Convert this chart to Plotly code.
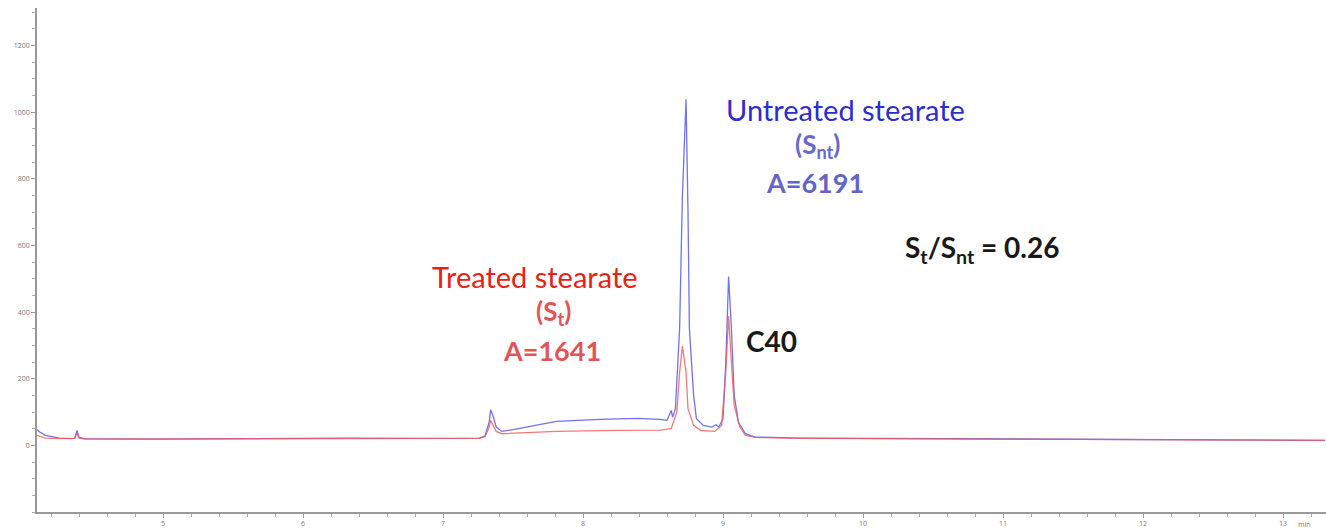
import plotly.graph_objects as go

# ---- data (time in min, signal in pA) ----
time_untreated = [4.10, 4.12, 4.16, 4.21, 4.26, 4.35, 4.37, 4.386, 4.40, 4.44, 4.91, 5.60, 6.30, 6.90,
                  7.26, 7.30, 7.33, 7.34, 7.36, 7.38, 7.42, 7.51, 7.62, 7.81, 8.12, 8.39, 8.55, 8.60,
                  8.63, 8.64, 8.66, 8.69, 8.71, 8.736, 8.75, 8.76, 8.79, 8.81, 8.86, 8.92, 8.95, 8.97,
                  9.00, 9.02, 9.04, 9.06, 9.08, 9.11, 9.16, 9.23, 9.55, 10.98, 12.76, 13.30]
signal_untreated = [48, 40, 30, 25, 22, 20, 22, 45, 24, 20, 19, 20, 22, 21,
                    22, 28, 70, 107, 85, 55, 42, 48, 57, 72, 78, 81, 78, 75,
                    105, 85, 110, 350, 750, 1039, 700, 350, 150, 80, 60, 55, 62, 55,
                    80, 250, 507, 350, 150, 70, 35, 25, 22, 20, 17, 15]

time_treated = [4.10, 4.16, 4.26, 4.35, 4.37, 4.386, 4.40, 4.44, 4.91, 5.60, 6.30, 6.90,
                7.26, 7.30, 7.33, 7.34, 7.36, 7.38, 7.42, 7.81, 8.24, 8.55, 8.63, 8.67, 8.69,
                8.71, 8.736, 8.75, 8.79, 8.84, 8.94, 8.99, 9.02, 9.04, 9.06, 9.08, 9.12, 9.16,
                9.23, 9.55, 10.98, 12.76, 13.30]
signal_treated = [30, 22, 20, 19, 21, 38, 22, 19, 19, 20, 21, 20,
                  21, 26, 55, 75, 60, 42, 35, 42, 45, 46, 50, 100, 220,
                  298, 220, 110, 60, 45, 42, 60, 220, 388, 250, 120, 55, 30,
                  24, 21, 19, 17, 15]

y_tick_values = [0, 200, 400, 600, 800, 1000, 1200]
x_tick_values = [5, 6, 7, 8, 9, 10, 11, 12, 13]

# ---- pixel helpers for layout positions ----
L, W, T, H = 37, 1289, 8, 507
XR = [4.1, 13.307]
YR = [-200, 1313]


def px2x(px):
    return XR[0] + (px - L) / W * (XR[1] - XR[0])


def py2y(py):
    return YR[1] - (py - T) / H * (YR[1] - YR[0])


fig = go.Figure()
fig.add_trace(go.Scatter(x=time_untreated, y=signal_untreated, mode="lines",
                         line=dict(color="rgb(80,80,230)", width=1.3), opacity=0.8,
                         name="Untreated", showlegend=False))
fig.add_trace(go.Scatter(x=time_treated, y=signal_treated, mode="lines",
                         line=dict(color="rgb(240,90,90)", width=1.3), opacity=0.8,
                         name="Treated", showlegend=False))

font_main = "Lato, 'Open Sans', sans-serif"
ann = [
    ("Untreated stearate", 845, 110, "rgb(45,45,205)", 29, False),
    ("(S<sub>nt</sub>)", 817, 146, "rgb(105,105,205)", 26, True),
    ("A=6191", 815, 184, "rgb(100,100,200)", 27, True),
    ("S<sub>t</sub>/S<sub>nt</sub> = 0.26", 982, 250, "rgb(25,25,25)", 28, True),
    ("Treated stearate", 535, 278, "rgb(228,35,20)", 29, False),
    ("(S<sub>t</sub>)", 553, 314, "rgb(225,85,85)", 26, True),
    ("A=1641", 552, 353, "rgb(225,85,85)", 27, True),
    ("C40", 771, 343, "rgb(25,25,25)", 28, True),
]
for text, px, py, color, size, bold in ann:
    t = f"<b>{text}</b>" if bold else text
    fig.add_annotation(x=px2x(px), y=py2y(py), xref="x", yref="y", text=t, showarrow=False,
                       font=dict(family=font_main, size=size, color=color),
                       xanchor="center", yanchor="middle")

fig.add_annotation(x=px2x(16), y=py2y(14), xref="x", yref="y", text="pA", showarrow=False,
                   font=dict(size=7, color="#777"), xanchor="center", yanchor="middle")
fig.add_annotation(x=px2x(1304), y=0, xref="x", yref="paper", text="min", showarrow=False,
                   font=dict(size=7, color="#777"), xanchor="center", yanchor="top", yshift=-6)

fig.update_layout(
    width=1326, height=528,
    margin=dict(l=L, r=0, t=T, b=528 - T - H),
    plot_bgcolor="white", paper_bgcolor="white",
    xaxis=dict(range=XR, showgrid=False, zeroline=False, showline=True, linecolor="#999",
               linewidth=1.5, ticks="outside", ticklen=4, tickcolor="#999",
               tickvals=x_tick_values, ticktext=[str(v) for v in x_tick_values],
               tickfont=dict(size=7, color="#777"),
               minor=dict(dtick=0.2, ticks="outside", ticklen=3, tickcolor="#aaa")),
    yaxis=dict(range=YR, showgrid=False, zeroline=False, showline=True, linecolor="#999",
               linewidth=1.5, ticks="outside", ticklen=4, tickcolor="#999",
               tickvals=y_tick_values, ticktext=[str(v) for v in y_tick_values],
               tickfont=dict(size=7, color="#777"),
               minor=dict(dtick=50, ticks="outside", ticklen=3, tickcolor="#aaa")),
)

fig.write_html("out.html")
